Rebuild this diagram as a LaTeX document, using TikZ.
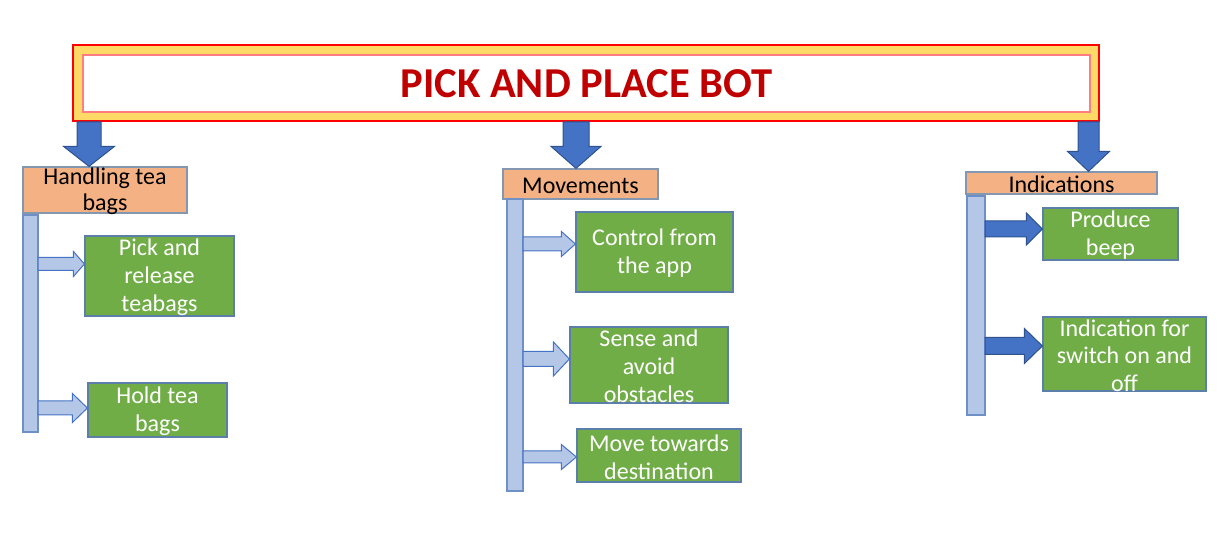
\documentclass[tikz,border=0pt]{standalone}
\usepackage{fontspec}
\setmainfont{Carlito}
\usetikzlibrary{fit,calc}
\definecolor{tyellow}{HTML}{FFD966}
\definecolor{tred}{HTML}{FF0000}
\definecolor{tinner}{HTML}{FF7C80}
\definecolor{ttext}{HTML}{C00000}
\definecolor{dblue}{HTML}{4472C4}
\definecolor{dblueb}{HTML}{2F528F}
\definecolor{hdrfill}{HTML}{F4B183}
\definecolor{hdrline}{HTML}{8497B0}
\definecolor{lblue}{HTML}{B4C7E7}
\definecolor{lblueb}{HTML}{6F8FC7}
\definecolor{gfill}{HTML}{70AD47}
\definecolor{gline}{HTML}{5B7FA8}
\newcommand\harr[6]{\draw[#1] let \p1=(#2), \p2=(#3) in
 (\x1,{\y1+#4}) -- ({\x2-#6},{\y1+#4}) -- ({\x2-#6},{\y1+#5}) -- (\x2,\y1) -- ({\x2-#6},{\y1-#5}) -- ({\x2-#6},{\y1-#4}) -- (\x1,{\y1-#4}) -- cycle;}
\newcommand\varr[6]{\draw[#1] let \p1=(#2), \p2=(#3) in
 ({\x1-#4},\y1) -- ({\x1-#4},{\y2+#6}) -- ({\x1-#5},{\y2+#6}) -- (\x1,\y2) -- ({\x1+#5},{\y2+#6}) -- ({\x1+#4},{\y2+#6}) -- ({\x1+#4},\y1) -- cycle;}
\begin{document}
\begin{tikzpicture}[x=0.5pt,y=-0.5pt,
  txt/.style={inner sep=0pt, align=center, yshift=-0.75pt, font=\fontsize{12}{14}\selectfont},
  hdrtext/.style={txt, text=black},
  leaftext/.style={txt, text=white},
  hdr/.style={inner sep=0pt, fill=hdrfill, draw=hdrline, line width=0.6pt},
  leaf/.style={inner sep=0pt, fill=gfill, draw=gline, line width=0.6pt},
  bar/.style={inner sep=0pt, fill=lblue, draw=lblueb, line width=0.6pt},
  larrow/.style={fill=lblue, draw=dblue, line width=0.5pt},
  darrow/.style={fill=dblue, draw=dblueb, line width=0.5pt}]
\useasboundingbox (0,0) rectangle (1220,533);
% title
\node[inner sep=0pt, fill=tyellow, draw=tred, line width=0.6pt, fit={(73,45) (1099,121)}] (outer) {};
\node[inner sep=0pt, fill=white, draw=tinner, line width=0.9pt, fit={(83,55) (1090,112)},
  label={[inner sep=0pt, font=\fontsize{21.3}{25}\selectfont\bfseries, text=ttext]center:PICK AND PLACE BOT}] (title) {};
% headers
\node[hdr, fit={(23,167) (187,213)}, label={[hdrtext, font=\fontsize{12}{13}\selectfont]center:{Handling tea\\bags}}] (h1) {};
\node[hdr, fit={(503,169) (658,199)}, label={[hdrtext]center:Movements}] (h2) {};
\node[hdr, fit={(966,172) (1157,194)}, label={[hdrtext]center:Indications}] (h3) {};
% down arrows
\coordinate (t1) at (89,122);
\coordinate (t2) at (576,122);
\coordinate (t3) at (1088.5,122);
\varr{darrow}{t1}{t1 |- h1.north}{6pt}{12.75pt}{10pt}
\varr{darrow}{t2}{t2 |- h2.north}{6.5pt}{12.5pt}{11pt}
\varr{darrow}{t3}{t3 |- h3.north}{5.25pt}{10.5pt}{10pt}
% bars
\node[bar, fit={(23,215) (38,432)}] (bar1) {};
\node[bar, fit={(507,199) (523,491)}] (bar2) {};
\node[bar, fit={(967,196) (985,415)}] (bar3) {};
% leaves
\node[leaf, fit={(85,236) (234,316)}, label={[leaftext]center:{Pick and\\release\\teabags}}] (l1) {};
\node[leaf, fit={(88,383) (227,437)}, label={[leaftext]center:{Hold tea\\bags}}] (l2) {};
\node[leaf, fit={(576,212) (733,292)}, label={[leaftext]center:{Control from\\the app}}] (m1) {};
\node[leaf, fit={(570,327) (728,403)}, label={[leaftext]center:{Sense and\\avoid\\obstacles}}] (m2) {};
\node[leaf, fit={(577,429) (741,482)}, label={[leaftext]center:{Move towards\\destination}}] (m3) {};
\node[leaf, fit={(1043,208) (1178,260)}, label={[leaftext]center:{Produce\\beep}}] (r1) {};
\node[leaf, fit={(1043,317) (1206,391)}, label={[leaftext, font=\fontsize{12}{13.75}\selectfont]center:{Indication for\\switch on and\\off}}] (r2) {};
% side arrows
\coordinate (a1) at (38,264);
\coordinate (a2) at (38,408);
\coordinate (b1) at (523,244);
\coordinate (b2) at (523,359);
\coordinate (b3) at (523,457);
\coordinate (c1) at (985,229);
\coordinate (c2) at (985,346);
\harr{larrow}{a1}{l1.west |- a1}{3.25pt}{6.25pt}{5.5pt}
\harr{larrow}{a2}{l2.west |- a2}{3.5pt}{7.25pt}{7.5pt}
\harr{larrow}{b1}{m1.west |- b1}{3.5pt}{6.25pt}{7pt}
\harr{larrow}{b2}{m2.west |- b2}{3.75pt}{8.5pt}{8pt}
\harr{larrow}{b3}{m3.west |- b3}{3pt}{6.25pt}{7.5pt}
\harr{darrow}{c1}{r1.west |- c1}{4pt}{8pt}{8pt}
\harr{darrow}{c2}{r2.west |- c2}{4.25pt}{8.75pt}{9pt}
\end{tikzpicture}
\end{document}
